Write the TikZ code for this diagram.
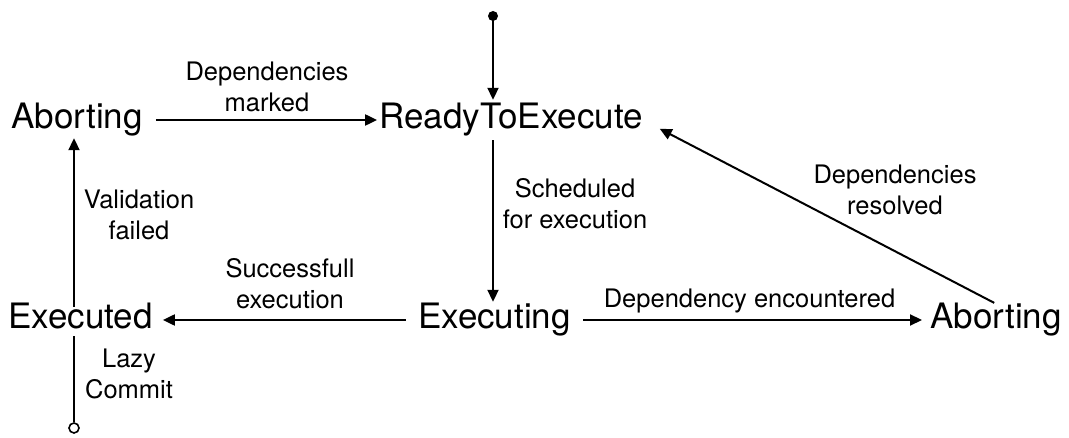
\documentclass[tikz,border=0pt]{standalone}
\usepackage{fontspec}
\setmainfont{TeX Gyre Heros}
\usetikzlibrary{arrows.meta}
\tikzset{
  state/.style={inner sep=0pt, anchor=base, text height=25pt, text depth=7pt,
    font=\fontsize{35}{42}\selectfont},
  lbl/.style={inner sep=0pt, anchor=base, align=center,
    font=\fontsize{25.5}{31}\selectfont},
  arr/.style={line width=2pt, -{Triangle[length=12pt,width=11pt]},
    shorten <=11pt, shorten >=9pt},
  plain/.style={line width=2pt},
}
\begin{document}
\begin{tikzpicture}[x=1pt,y=-1pt]
\useasboundingbox (0,0) rectangle (1069,438);

% states
\node[state] (abL)   at (77,129)    {Aborting};
\node[state] (ready) at (511,129)   {ReadyToExecute};
\node[state] (done)  at (80.5,329)  {Executed};
\node[state] (run)   at (494.5,329) {Executing};
\node[state] (abR)   at (996,329)   {Aborting};

% initial and final markers
\node[circle, fill=black, inner sep=0pt, minimum size=10pt] (start) at (493,16) {};
\node[circle, draw=black, line width=1.6pt, fill=white, inner sep=0pt, minimum size=10pt] (lazy) at (74,428) {};

% transitions
\draw[arr, shorten <=0pt, shorten >=4pt] (start.center) -- (ready.north -| start);
\draw[arr, shorten <=4pt, shorten >=2pt] (ready.south -| start) -- (run.north -| start);
\draw[arr, shorten <=13pt, shorten >=2pt] (abL.east) -- (ready.west);
\draw[arr, shorten <=12pt, shorten >=10pt] (run.west) -- (done.east);
\draw[arr, shorten <=12pt, shorten >=8pt] (run.east) -- (abR.west);
\draw[arr, shorten <=2pt, shorten >=19pt] (abR.north) -- (ready.east);
\draw[arr, shorten <=-3pt, shorten >=2pt] (done.north -| lazy) -- (abL.south -| lazy);
\draw[plain] (done.south -| lazy) -- (lazy.north);

% transition labels (anchored on the baseline of the last line)
\node[lbl] (l1) at (267,112)   {Dependencies\\marked};
\node[lbl] (l2) at (575,229)   {Scheduled\\for execution};
\node[lbl] (l3) at (895,215)   {Dependencies\\resolved};
\node[lbl] (l4) at (139,240)   {Validation\\failed};
\node[lbl] (l5) at (290,309)   {Successfull\\execution};
\node[lbl] (l6) at (749.5,308) {Dependency encountered};
\node[lbl] (l7) at (129,399)   {Lazy\\Commit};
\end{tikzpicture}
\end{document}
